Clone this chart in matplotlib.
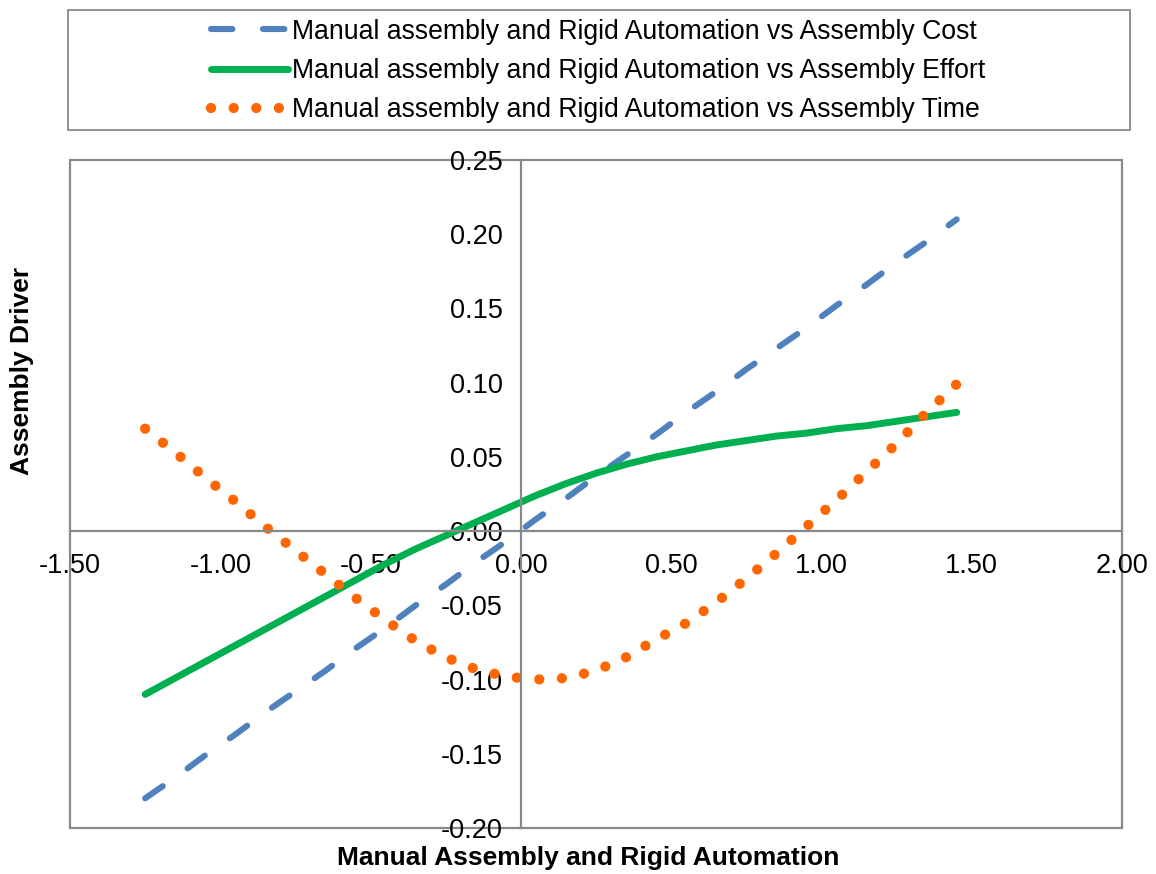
import matplotlib
matplotlib.use("Agg")
import matplotlib.pyplot as plt
from matplotlib.patches import Rectangle

plt.rcParams['font.family'] = ['Liberation Sans', 'DejaVu Sans']

x_vals = [-1.25, -1.15, -1.05, -0.95, -0.85, -0.75, -0.65, -0.55, -0.45, -0.35,
          -0.25, -0.15, -0.05, 0.05, 0.15, 0.25, 0.35, 0.45, 0.55, 0.65,
          0.75, 0.85, 0.95, 1.05, 1.15, 1.25, 1.35, 1.45]

cost = [-0.180, -0.166, -0.151, -0.137, -0.122, -0.108, -0.094, -0.079, -0.065, -0.050,
        -0.036, -0.021, -0.007, 0.008, 0.022, 0.037, 0.051, 0.065, 0.080, 0.094,
        0.109, 0.123, 0.137, 0.152, 0.166, 0.181, 0.195, 0.210]

effort = [-0.110, -0.099, -0.088, -0.077, -0.066, -0.055, -0.044, -0.033, -0.022, -0.012,
          -0.003, 0.006, 0.015, 0.024, 0.032, 0.039, 0.045, 0.050, 0.054, 0.058,
          0.061, 0.064, 0.066, 0.069, 0.071, 0.074, 0.077, 0.080]

time_ = [0.069, 0.053, 0.036, 0.020, 0.003, -0.013, -0.029, -0.045, -0.060, -0.074,
         -0.085, -0.093, -0.098, -0.100, -0.099, -0.094, -0.085, -0.073, -0.062, -0.048,
         -0.032, -0.015, 0.003, 0.021, 0.040, 0.059, 0.080, 0.099]

labels = ["Manual assembly and Rigid Automation vs Assembly Cost",
          "Manual assembly and Rigid Automation vs Assembly Effort",
          "Manual assembly and Rigid Automation vs Assembly Time"]

x_ticks = [-1.5, -1.0, -0.5, 0.0, 0.5, 1.0, 1.5, 2.0]
y_ticks = [-0.20, -0.15, -0.10, -0.05, 0.00, 0.05, 0.10, 0.15, 0.20, 0.25]

grey = '#898989'
fig = plt.figure(figsize=(11.56, 8.74), dpi=100)
ax = fig.add_axes([70/1156, 1-828/874, (1122-70)/1156, (828-160)/874])

l1, = ax.plot(x_vals, cost, color='#4F81BD', lw=4.4, dashes=(3.5, 5.0),
              dash_capstyle='round', solid_capstyle='round', label=labels[0])
l2, = ax.plot(x_vals, effort, color='#00B050', lw=5.0, solid_capstyle='round',
              label=labels[1])
l3, = ax.plot(x_vals, time_, color='#FF6600', lw=7.4, linestyle=(0, (0.001, 2.2)),
              dash_capstyle='round', label=labels[2])

ax.set_xlim(-1.5, 2.0)
ax.set_ylim(-0.20, 0.25)
ax.set_xticks(x_ticks)
ax.set_yticks(y_ticks)
ax.set_xticklabels([f"{v:.2f}" for v in x_ticks])
ax.set_yticklabels([f"{v:.2f}" for v in y_ticks])

for s in ['top', 'right']:
    ax.spines[s].set_visible(False)
ax.spines['left'].set_position(('data', 0))
ax.spines['bottom'].set_position(('data', 0))
for s in ['left', 'bottom']:
    ax.spines[s].set_color(grey)
    ax.spines[s].set_linewidth(1.6)
ax.add_patch(Rectangle((0, 0), 1, 1, transform=ax.transAxes, fill=False,
                       edgecolor=grey, lw=1.6, clip_on=False, zorder=0.5))
ax.tick_params(axis='both', length=0, labelsize=19.5, colors='black')
ax.tick_params(axis='x', pad=16)
ax.tick_params(axis='y', pad=13)

ax.set_xlabel("Manual Assembly and Rigid Automation", fontsize=19, fontweight='bold',
              va='center')
ax.xaxis.set_label_coords((588-70)/1052, (828-858)/668)
ax.set_ylabel("Assembly Driver", fontsize=19, fontweight='bold')
ax.yaxis.set_label_coords((34-70)/1052, (828-371)/668)

fig.patches.append(Rectangle((68/1156, 1-130/874), (1130-68)/1156, 120/874,
                             transform=fig.transFigure, fill=False,
                             edgecolor=grey, lw=1.3))
fig.legend(handles=[l1, l2, l3], loc='center', bbox_to_anchor=(598/1156, 1-71/874),
           frameon=False, fontsize=19.2, handlelength=2.9, handletextpad=0.12,
           labelspacing=0.5, borderpad=0)

fig.savefig("out.png", dpi=100)
